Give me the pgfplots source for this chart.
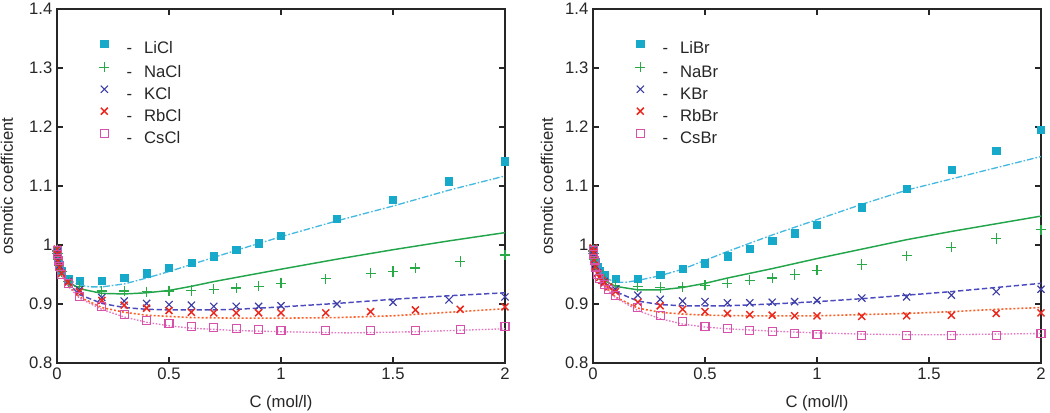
\documentclass[border=0pt]{standalone}
\usepackage{pgfplots}
\pgfplotsset{compat=1.18}
\usepackage{fontspec}
\setmainfont{Liberation Sans}

\definecolor{cLi}{RGB}{23,169,201}
\definecolor{cLiL}{RGB}{70,185,225}
\definecolor{cNa}{RGB}{40,170,70}
\definecolor{cNaL}{RGB}{35,165,75}
\definecolor{cK}{RGB}{60,60,165}
\definecolor{cKL}{RGB}{75,75,190}
\definecolor{cRb}{RGB}{235,40,30}
\definecolor{cRbL}{RGB}{250,95,40}
\definecolor{cCs}{RGB}{215,80,170}
\definecolor{cCsL}{RGB}{230,120,195}

\pgfplotsset{
  common/.style={
    width=336pt, height=265.5pt, scale only axis,
    xmin=0, xmax=2, ymin=0.8, ymax=1.4,
    xtick={0,0.5,1,1.5,2},
    ytick={0.8,0.9,1.0,1.1,1.2,1.3,1.4},
    tick align=inside, major tick length=4.5pt,
    tick style={black!85, line width=0.9pt},
    axis line style={line width=1.1pt, black!85},
    /pgf/number format/assume math mode=true,
    ticklabel style={font=\fontsize{12.5}{14}\selectfont, text=black!85},
    yticklabel style={/pgf/number format/fixed, /pgf/number format/precision=1},
    xticklabel style={/pgf/number format/fixed, /pgf/number format/precision=1},
    label style={font=\fontsize{12.5}{14}\selectfont, text=black!85},
    xlabel={C (mol/l)},
    xlabel style={at={(axis description cs:0.5,-0.113)}, anchor=center},
    ylabel={osmotic coefficient},
    ylabel style={anchor=center},
    legend image code/.code={\draw[##1] plot coordinates {(0pt,4.4pt)};},
    legend style={at={(axis description cs:0.0938,0.9126)}, anchor=north west,
      draw=none, fill=none, inner sep=0pt, row sep=3.4pt,
      font=\fontsize{12.5}{14}\selectfont, text=black!85,
      nodes={inner sep=0pt, text height=9pt, text depth=3pt}},
    legend cell align=left,
  },
  pLi/.style={only marks, mark=square*, mark size=2.7pt, color=cLi},
  pNa/.style={only marks, mark=+, mark size=3.8pt, color=cNa, mark options={line width=0.9pt}},
  pK/.style={only marks, mark=x, mark size=3.8pt, color=cK, mark options={line width=0.85pt}},
  pRb/.style={only marks, mark=x, mark size=3.7pt, color=cRb, mark options={line width=1.1pt}},
  pCs/.style={only marks, mark=square, mark size=3.0pt, color=cCs, mark options={line width=0.8pt}},
  cLiS/.style={no marks, color=cLiL, line width=1.0pt, dash pattern=on 5pt off 1.5pt on 1.2pt off 1.5pt, forget plot},
  cNaS/.style={no marks, color=cNaL, line width=1.1pt, forget plot},
  cKS/.style={no marks, color=cKL, line width=1.1pt, dash pattern=on 4pt off 2pt, forget plot},
  cRbS/.style={no marks, color=cRbL, line width=1.2pt, dash pattern=on 1.5pt off 1.5pt, forget plot},
  cCsS/.style={no marks, color=cCsL, line width=1.0pt, dash pattern=on 1.2pt off 1.2pt, forget plot},
}

\begin{document}
\begin{tikzpicture}
\path[use as bounding box] (0,0) rectangle (787.5pt,309pt);

% ---------------- Chlorides ----------------
\begin{axis}[common, at={(42.75pt,36.75pt)}, anchor=south west,
  ylabel style={at={(axis description cs:-0.112,0.5)}}]
\addplot[cLiS] coordinates {(0,1.000)(0.002,0.986)(0.005,0.977)(0.01,0.968)(0.02,0.957)(0.05,0.942)(0.1,0.932)(0.15,0.929)(0.2,0.929)(0.3,0.934)(0.4,0.944)(0.5,0.955)(0.6,0.967)(0.7,0.979)(0.8,0.991)(1.0,1.014)(1.25,1.041)(1.5,1.066)(1.75,1.093)(2.0,1.117)};
\addplot[cNaS] coordinates {(0,1.000)(0.002,0.985)(0.005,0.976)(0.01,0.966)(0.02,0.955)(0.05,0.938)(0.1,0.926)(0.2,0.918)(0.3,0.917)(0.4,0.919)(0.5,0.923)(0.6,0.930)(0.7,0.938)(0.8,0.945)(1.0,0.959)(1.25,0.976)(1.5,0.992)(1.75,1.007)(2.0,1.021)};
\addplot[cKS] coordinates {(0,1.000)(0.002,0.985)(0.005,0.975)(0.01,0.965)(0.02,0.953)(0.05,0.935)(0.1,0.916)(0.2,0.901)(0.3,0.894)(0.4,0.891)(0.5,0.890)(0.6,0.890)(0.7,0.890)(0.8,0.891)(1.0,0.895)(1.25,0.901)(1.5,0.908)(1.75,0.914)(2.0,0.919)};
\addplot[cRbS] coordinates {(0,1.000)(0.002,0.985)(0.005,0.975)(0.01,0.964)(0.02,0.951)(0.05,0.932)(0.1,0.912)(0.2,0.894)(0.3,0.886)(0.4,0.881)(0.5,0.879)(0.6,0.877)(0.8,0.876)(1.0,0.876)(1.25,0.877)(1.5,0.880)(1.75,0.886)(2.0,0.892)};
\addplot[cCsS] coordinates {(0,1.000)(0.002,0.985)(0.005,0.974)(0.01,0.963)(0.02,0.950)(0.05,0.930)(0.1,0.910)(0.2,0.891)(0.3,0.878)(0.4,0.869)(0.5,0.863)(0.6,0.859)(0.8,0.855)(1.0,0.853)(1.3,0.851)(1.6,0.853)(2.0,0.858)};

\addplot[pLi] coordinates {(0.001,0.990)(0.002,0.985)(0.005,0.976)(0.01,0.967)(0.02,0.956)(0.05,0.942)(0.1,0.939)(0.2,0.939)(0.3,0.945)(0.4,0.952)(0.5,0.961)(0.6,0.970)(0.7,0.981)(0.8,0.992)(0.9,1.003)(1.0,1.015)(1.25,1.044)(1.5,1.077)(1.75,1.108)(2.0,1.142)};
\addlegendentry{\hspace{12.9pt}-\hspace{9pt}LiCl}
\addplot[pNa] coordinates {(0.001,0.990)(0.002,0.985)(0.005,0.976)(0.01,0.966)(0.02,0.955)(0.05,0.938)(0.1,0.930)(0.2,0.922)(0.3,0.922)(0.4,0.921)(0.5,0.922)(0.6,0.923)(0.7,0.925)(0.8,0.927)(0.9,0.930)(1.0,0.935)(1.2,0.943)(1.4,0.952)(1.5,0.955)(1.6,0.961)(1.8,0.972)(2.0,0.983)};
\addlegendentry{\hspace{12.9pt}-\hspace{9pt}NaCl}
\addplot[pK] coordinates {(0.001,0.988)(0.002,0.984)(0.005,0.975)(0.01,0.965)(0.02,0.952)(0.05,0.938)(0.1,0.924)(0.2,0.911)(0.3,0.905)(0.4,0.901)(0.5,0.899)(0.6,0.898)(0.7,0.896)(0.8,0.896)(0.9,0.896)(1.0,0.897)(1.25,0.900)(1.5,0.903)(1.75,0.907)(2.0,0.912)};
\addlegendentry{\hspace{12.9pt}-\hspace{9pt}KCl}
\addplot[pRb] coordinates {(0.001,0.993)(0.002,0.985)(0.005,0.972)(0.01,0.962)(0.02,0.952)(0.05,0.937)(0.1,0.921)(0.2,0.906)(0.3,0.898)(0.4,0.893)(0.5,0.889)(0.6,0.886)(0.7,0.885)(0.8,0.885)(0.9,0.885)(1.0,0.885)(1.2,0.885)(1.4,0.887)(1.6,0.890)(1.8,0.891)(2.0,0.895)};
\addlegendentry{\hspace{12.9pt}-\hspace{9pt}RbCl}
\addplot[pCs] coordinates {(0.001,0.990)(0.002,0.984)(0.005,0.974)(0.01,0.963)(0.02,0.950)(0.05,0.935)(0.1,0.913)(0.2,0.895)(0.3,0.883)(0.4,0.872)(0.5,0.867)(0.6,0.862)(0.7,0.860)(0.8,0.858)(0.9,0.857)(1.0,0.855)(1.2,0.855)(1.4,0.855)(1.6,0.855)(1.8,0.857)(2.0,0.862)};
\addlegendentry{\hspace{12.9pt}-\hspace{9pt}CsCl}
\end{axis}

% ---------------- Bromides ----------------
\begin{axis}[common, at={(444.75pt,36.75pt)}, anchor=south west,
  ylabel style={at={(axis description cs:-0.103,0.5)}}]
\addplot[cLiS] coordinates {(0,1.000)(0.002,0.986)(0.005,0.977)(0.01,0.968)(0.02,0.957)(0.05,0.945)(0.1,0.937)(0.15,0.937)(0.2,0.940)(0.3,0.948)(0.4,0.959)(0.5,0.974)(0.6,0.989)(0.7,1.003)(0.8,1.017)(1.0,1.043)(1.2,1.069)(1.4,1.093)(1.6,1.112)(1.8,1.131)(2.0,1.150)};
\addplot[cNaS] coordinates {(0,1.000)(0.002,0.985)(0.005,0.975)(0.01,0.965)(0.02,0.954)(0.05,0.940)(0.1,0.930)(0.2,0.924)(0.3,0.924)(0.4,0.928)(0.5,0.935)(0.6,0.944)(0.7,0.952)(0.8,0.960)(1.0,0.977)(1.2,0.993)(1.4,1.009)(1.6,1.023)(1.8,1.036)(2.0,1.049)};
\addplot[cKS] coordinates {(0,1.000)(0.002,0.985)(0.005,0.975)(0.01,0.965)(0.02,0.952)(0.05,0.936)(0.1,0.921)(0.2,0.905)(0.3,0.899)(0.4,0.897)(0.5,0.897)(0.6,0.897)(0.8,0.900)(1.0,0.904)(1.2,0.909)(1.4,0.915)(1.6,0.921)(1.8,0.928)(2.0,0.935)};
\addplot[cRbS] coordinates {(0,1.000)(0.002,0.985)(0.005,0.974)(0.01,0.963)(0.02,0.950)(0.05,0.932)(0.1,0.912)(0.2,0.893)(0.3,0.886)(0.4,0.883)(0.5,0.881)(0.7,0.880)(1.0,0.880)(1.2,0.882)(1.4,0.884)(1.6,0.887)(1.8,0.891)(2.0,0.894)};
\addplot[cCsS] coordinates {(0,1.000)(0.002,0.985)(0.005,0.973)(0.01,0.962)(0.02,0.948)(0.05,0.929)(0.1,0.911)(0.2,0.889)(0.3,0.875)(0.4,0.866)(0.5,0.861)(0.6,0.858)(0.8,0.854)(1.0,0.851)(1.2,0.849)(1.4,0.848)(1.6,0.848)(1.8,0.849)(2.0,0.850)};

\addplot[pLi] coordinates {(0.001,0.993)(0.002,0.988)(0.005,0.980)(0.01,0.972)(0.02,0.963)(0.03,0.957)(0.05,0.949)(0.1,0.943)(0.2,0.943)(0.3,0.950)(0.4,0.960)(0.5,0.969)(0.6,0.981)(0.7,0.993)(0.8,1.007)(0.9,1.020)(1.0,1.034)(1.2,1.064)(1.4,1.095)(1.6,1.127)(1.8,1.160)(2.0,1.195)};
\addlegendentry{\hspace{12.9pt}-\hspace{9pt}LiBr}
\addplot[pNa] coordinates {(0.001,0.990)(0.002,0.985)(0.005,0.976)(0.01,0.967)(0.02,0.956)(0.05,0.942)(0.1,0.932)(0.2,0.929)(0.3,0.928)(0.4,0.929)(0.5,0.932)(0.6,0.935)(0.7,0.940)(0.8,0.944)(0.9,0.950)(1.0,0.957)(1.2,0.967)(1.4,0.982)(1.6,0.996)(1.8,1.011)(2.0,1.026)};
\addlegendentry{\hspace{12.9pt}-\hspace{9pt}NaBr}
\addplot[pK] coordinates {(0.001,0.990)(0.002,0.984)(0.005,0.975)(0.01,0.965)(0.02,0.953)(0.05,0.938)(0.1,0.925)(0.2,0.915)(0.3,0.908)(0.4,0.905)(0.5,0.904)(0.6,0.902)(0.7,0.902)(0.8,0.903)(0.9,0.904)(1.0,0.906)(1.2,0.910)(1.4,0.912)(1.6,0.915)(1.8,0.921)(2.0,0.925)};
\addlegendentry{\hspace{12.9pt}-\hspace{9pt}KBr}
\addplot[pRb] coordinates {(0.001,0.995)(0.002,0.988)(0.005,0.975)(0.01,0.963)(0.02,0.952)(0.03,0.945)(0.04,0.940)(0.05,0.936)(0.07,0.929)(0.1,0.921)(0.2,0.903)(0.3,0.897)(0.4,0.891)(0.5,0.887)(0.6,0.884)(0.7,0.882)(0.8,0.881)(0.9,0.880)(1.0,0.880)(1.2,0.879)(1.4,0.880)(1.6,0.881)(1.8,0.884)(2.0,0.885)};
\addlegendentry{\hspace{12.9pt}-\hspace{9pt}RbBr}
\addplot[pCs] coordinates {(0.001,0.990)(0.002,0.984)(0.005,0.973)(0.01,0.962)(0.02,0.950)(0.03,0.943)(0.05,0.933)(0.07,0.925)(0.1,0.914)(0.2,0.894)(0.3,0.881)(0.4,0.871)(0.5,0.862)(0.6,0.858)(0.7,0.855)(0.8,0.853)(0.9,0.850)(1.0,0.849)(1.2,0.847)(1.4,0.846)(1.6,0.846)(1.8,0.847)(2.0,0.850)};
\addlegendentry{\hspace{12.9pt}-\hspace{9pt}CsBr}
\end{axis}
\end{tikzpicture}
\end{document}
